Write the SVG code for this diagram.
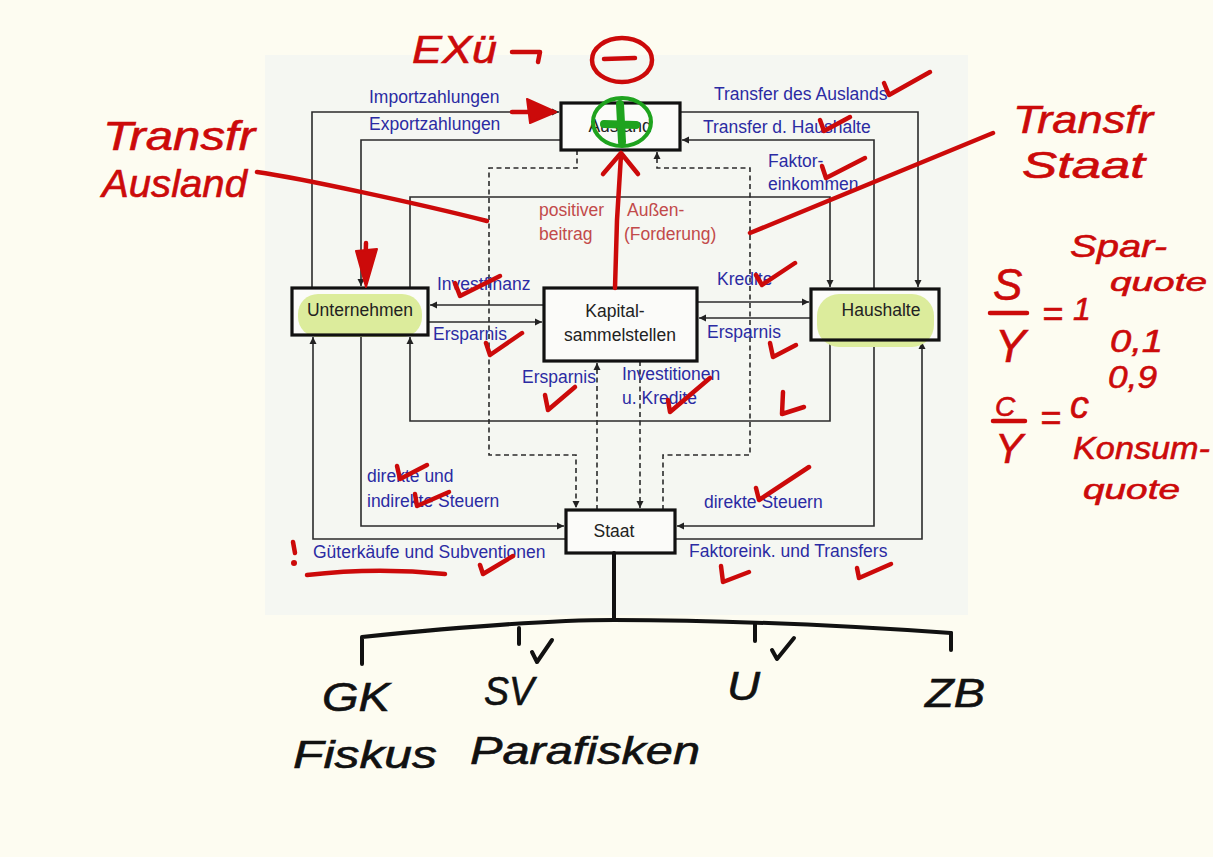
<svg xmlns="http://www.w3.org/2000/svg" width="1213" height="857" viewBox="0 0 1213 857">
<style>
.bg{fill:#fdfcf1}
.panel{fill:#f5f7f2}
.box{fill:#fbfbf9}
.boxs{fill:none;stroke:#111;stroke-width:3.2}
.hl{fill:#dcec9c}
.ln{fill:none;stroke:#2b2b2b;stroke-width:1.6}
.dash{stroke-dasharray:5 3.5}
.lbl{font-family:"Liberation Sans",Arial,sans-serif;font-size:17.5px;fill:#2b2ba3}
.red{font-family:"Liberation Sans",Arial,sans-serif;font-size:17.5px;fill:#c24a4a}
.node{font-family:"Liberation Sans",Arial,sans-serif;font-size:17.5px;fill:#222}
.hw{font-family:"Liberation Sans","DejaVu Sans",sans-serif;font-style:italic;fill:#cc0a0a;stroke:#cc0a0a;stroke-width:0.6}
.hwb{font-family:"Liberation Sans","DejaVu Sans",sans-serif;font-style:italic;fill:#111;stroke:#111;stroke-width:0.6}
.pen{fill:none;stroke:#cc0a0a;stroke-width:4.5;stroke-linecap:round;stroke-linejoin:round}
.penk{fill:none;stroke:#111;stroke-width:4;stroke-linecap:round;stroke-linejoin:round}
</style>
<defs>
<marker id="ah" markerUnits="userSpaceOnUse" markerWidth="8" markerHeight="8" refX="7" refY="4" orient="auto">
<path d="M0,0.5 L7,4 L0,7.5 z" fill="#222"/>
</marker>
</defs>
<rect class="bg" x="0" y="0" width="1213" height="857"/>
<rect class="panel" x="265" y="55" width="703" height="560"/>

<g id="connectors">
<path class="ln" d="M312 288 V112 H559" marker-end="url(#ah)"/>
<path class="ln" d="M561 140 H361 V286" marker-end="url(#ah)"/>
<path class="ln" d="M410 288 V197 H830 V287" marker-end="url(#ah)"/>
<path class="ln" d="M680 112 H918 V287" marker-end="url(#ah)"/>
<path class="ln" d="M874 289 V140 H682" marker-end="url(#ah)"/>
<path class="ln" d="M544 305 H430" marker-end="url(#ah)"/>
<path class="ln" d="M428 322 H542" marker-end="url(#ah)"/>
<path class="ln" d="M697 302 H809" marker-end="url(#ah)"/>
<path class="ln" d="M811 318 H699" marker-end="url(#ah)"/>
<path class="ln" d="M830 340 V421 H410 V337" marker-end="url(#ah)"/>
<path class="ln" d="M874 340 V526 H677" marker-end="url(#ah)"/>
<path class="ln" d="M675 539 H922 V342" marker-end="url(#ah)"/>
<path class="ln" d="M361 335 V526 H564" marker-end="url(#ah)"/>
<path class="ln" d="M566 539 H313 V337" marker-end="url(#ah)"/>
<path class="ln dash" d="M577 150 V168 H489 V455 H576 V508" marker-end="url(#ah)"/>
<path class="ln dash" d="M663 510 V455 H750 V168 H657 V152" marker-end="url(#ah)"/>
<path class="ln dash" d="M597 510 V363" marker-end="url(#ah)"/>
<path class="ln dash" d="M640 361 V508" marker-end="url(#ah)"/>
</g>

<g id="labels">
<text class="lbl" x="369" y="103">Importzahlungen</text>
<text class="lbl" x="369" y="130">Exportzahlungen</text>
<text class="lbl" x="714" y="100">Transfer des Auslands</text>
<text class="lbl" x="703" y="133">Transfer d. Haushalte</text>
<text class="lbl" x="768" y="167">Faktor-</text>
<text class="lbl" x="768" y="190">einkommen</text>
<text class="red" x="539" y="216">positiver</text>
<text class="red" x="539" y="240">beitrag</text>
<text class="red" x="627" y="216">Außen-</text>
<text class="red" x="624" y="240">(Forderung)</text>
<text class="lbl" x="437" y="290">Investfinanz</text>
<text class="lbl" x="433" y="340">Ersparnis</text>
<text class="lbl" x="717" y="285">Kredite</text>
<text class="lbl" x="707" y="338">Ersparnis</text>
<text class="lbl" x="522" y="383">Ersparnis</text>
<text class="lbl" x="622" y="380">Investitionen</text>
<text class="lbl" x="622" y="404">u. Kredite</text>
<text class="lbl" x="367" y="482">direkte und</text>
<text class="lbl" x="367" y="507">indirekte Steuern</text>
<text class="lbl" x="313" y="558">Güterkäufe und Subventionen</text>
<text class="lbl" x="704" y="508">direkte Steuern</text>
<text class="lbl" x="689" y="557">Faktoreink. und Transfers</text>
</g>

<g id="ausland">
<rect class="box" x="561" y="103" width="119" height="47"/>
<rect class="boxs" x="561" y="103" width="119" height="47"/>
<text class="node" x="620" y="132" text-anchor="middle">Ausland</text>
</g>
<g id="unternehmen">
<rect class="box" x="292" y="288" width="136" height="47"/>
<rect class="hl" x="298" y="294" width="124" height="43" rx="20"/>
<rect class="boxs" x="292" y="288" width="136" height="47"/>
<text class="node" x="360" y="316" text-anchor="middle">Unternehmen</text>
</g>
<g id="kapitalsammelstellen">
<rect class="box" x="544" y="288" width="153" height="73"/>
<rect class="boxs" x="544" y="288" width="153" height="73"/>
<text class="node" x="615" y="317" text-anchor="middle">Kapital-</text>
<text class="node" x="620" y="341" text-anchor="middle">sammelstellen</text>
</g>
<g id="haushalte">
<rect class="box" x="811" y="289" width="128" height="51"/>
<rect class="hl" x="817" y="294" width="117" height="53" rx="22"/>
<rect class="boxs" x="811" y="289" width="128" height="51"/>
<text class="node" x="881" y="316" text-anchor="middle">Haushalte</text>
</g>
<g id="staat">
<rect class="box" x="566" y="510" width="109" height="43"/>
<rect class="boxs" x="566" y="510" width="109" height="43"/>
<text class="node" x="614" y="537" text-anchor="middle">Staat</text>
</g>

<g id="annotations-red">
<text class="hw" x="103" y="150" font-size="40" textLength="152" lengthAdjust="spacingAndGlyphs">Transfr</text>
<text class="hw" x="102" y="197" font-size="38" textLength="145" lengthAdjust="spacingAndGlyphs">Ausland</text>
<path class="pen" d="M257 172 C300 178 420 204 487 221"/>
<text class="hw" x="1013" y="133" font-size="38" textLength="140" lengthAdjust="spacingAndGlyphs">Transfr</text>
<text class="hw" x="1022" y="178" font-size="36" textLength="123" lengthAdjust="spacingAndGlyphs">Staat</text>
<path class="pen" d="M750 233 L993 133"/>
<text class="hw" x="412" y="63" font-size="38" textLength="85" lengthAdjust="spacingAndGlyphs">EXü</text>
<path class="pen" d="M512 52 H540 L538 62"/>
<ellipse class="pen" cx="622" cy="60" rx="30" ry="22"/>
<path class="pen" d="M604 59 L635 58"/>
<path class="pen" d="M615 288 L617 220 L621 155" stroke-width="7"/>
<path class="pen" d="M603 174 L621 153 L638 174" stroke-width="6"/>
<path class="pen" d="M366 243 L365 280"/>
<polygon points="356,251 377,249 366,287" fill="#cc0a0a" stroke="#cc0a0a" stroke-width="2" stroke-linejoin="round"/>
<path class="pen" d="M512 112 L530 112"/>
<polygon points="527,99 556,112 530,123" fill="#cc0a0a" stroke="#cc0a0a" stroke-width="2" stroke-linejoin="round"/>
<path class="pen" d="M884 83 L889 95 L930 72"/>
<path class="pen" d="M820 120 L824 131 L850 117"/>
<path class="pen" d="M822 166 L826 178 L865 158"/>
<path class="pen" d="M756 275 L762 285 L795 263"/>
<path class="pen" d="M455 283 L460 296 L500 276"/>
<path class="pen" d="M486 343 L490 355 L522 333"/>
<path class="pen" d="M545 395 L548 410 L575 387"/>
<path class="pen" d="M668 400 L670 412 L710 378"/>
<path class="pen" d="M770 343 L773 357 L796 345"/>
<path class="pen" d="M783 392 L782 414 L804 407"/>
<path class="pen" d="M756 488 L759 500 L809 467"/>
<path class="pen" d="M397 466 L400 479 L427 465"/>
<path class="pen" d="M415 494 L417 506 L449 492"/>
<path class="pen" d="M480 565 L483 574 L513 556"/>
<path class="pen" d="M721 566 L723 582 L749 572"/>
<path class="pen" d="M857 568 L859 578 L891 564"/>
<path class="pen" d="M293 542 L295 553"/>
<circle cx="294" cy="563" r="3" fill="#cc0a0a"/>
<path class="pen" d="M307 575 Q375 567 445 574"/>
<text class="hw" x="993" y="300" font-size="44">S</text>
<path class="pen" d="M990 313 H1027"/>
<text class="hw" x="995" y="362" font-size="46">Y</text>
<text class="hw" x="1042" y="326" font-size="36">=</text>
<text class="hw" x="1073" y="320" font-size="32">1</text>
<text class="hw" x="1070" y="257" font-size="32" textLength="97" lengthAdjust="spacingAndGlyphs">Spar-</text>
<text class="hw" x="1110" y="291" font-size="26" textLength="97" lengthAdjust="spacingAndGlyphs">quote</text>
<text class="hw" x="1110" y="352" font-size="32" textLength="53" lengthAdjust="spacingAndGlyphs">0,1</text>
<text class="hw" x="1108" y="388" font-size="32" textLength="49" lengthAdjust="spacingAndGlyphs">0,9</text>
<text class="hw" x="995" y="416" font-size="28">C</text>
<path class="pen" d="M993 421 H1025"/>
<text class="hw" x="995" y="463" font-size="42">Y</text>
<text class="hw" x="1040" y="430" font-size="36">=</text>
<text class="hw" x="1070" y="418" font-size="38">c</text>
<text class="hw" x="1073" y="459" font-size="32" textLength="137" lengthAdjust="spacingAndGlyphs">Konsum-</text>
<text class="hw" x="1083" y="499" font-size="28" textLength="97" lengthAdjust="spacingAndGlyphs">quote</text>
</g>

<g id="staat-tree">
<path class="penk" d="M614 553 V620"/>
<path class="penk" d="M362 664 V637 C450 628 540 620 614 620 C720 620 850 626 951 633"/>
<path class="penk" d="M519 628 V644"/>
<path class="penk" d="M755 624 V641"/>
<path class="penk" d="M951 633 V650"/>
<path class="penk" d="M532 652 L537 662 L552 640" stroke-width="3"/>
<path class="penk" d="M772 650 L777 659 L794 638" stroke-width="3"/>
<text class="hwb" x="322" y="711" font-size="40" textLength="68" lengthAdjust="spacingAndGlyphs">GK</text>
<text class="hwb" x="484" y="705" font-size="40" textLength="50" lengthAdjust="spacingAndGlyphs">SV</text>
<text class="hwb" x="727" y="700" font-size="40" textLength="33" lengthAdjust="spacingAndGlyphs">U</text>
<text class="hwb" x="925" y="707" font-size="40" textLength="60" lengthAdjust="spacingAndGlyphs">ZB</text>
<text class="hwb" x="293" y="768" font-size="38" textLength="144" lengthAdjust="spacingAndGlyphs">Fiskus</text>
<text class="hwb" x="470" y="764" font-size="38" textLength="230" lengthAdjust="spacingAndGlyphs">Parafisken</text>
</g>

<g id="green-mark">
<ellipse cx="622" cy="122" rx="29" ry="24" fill="none" stroke="#1ea31e" stroke-width="4"/>
<path d="M620 104 L622 142 M604 124 L636 125" fill="none" stroke="#1ea31e" stroke-width="8" stroke-linecap="round"/>
</g>
</svg>
